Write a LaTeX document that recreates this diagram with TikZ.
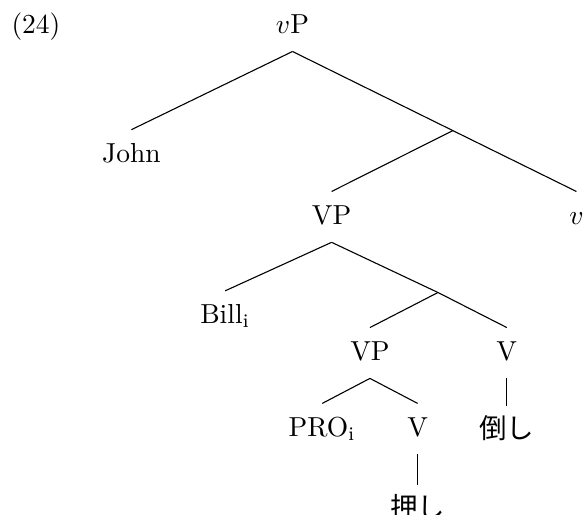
\documentclass[tikz,border=0pt]{standalone}
\usepackage{fontspec}
\usepackage{amssymb}
\newfontfamily\cjk{Noto Sans CJK JP}
\usetikzlibrary{positioning,calc}
\newcommand{\ind}[1]{#1$_{\mathrm{i}}$}

\begin{document}
\begin{tikzpicture}[
  nd/.style={inner sep=0pt, outer sep=0pt, anchor=base, text height=12pt, text depth=6.5pt},
  br/.style={draw=black, line width=0.4pt}]
\useasboundingbox (0,0) rectangle (7.48,6.58);

% ===== example number =====
\node[nd] (ex) at (0.46,6.15) {(24)};

% ===== vP level =====
\node[nd] (vP)   at (3.74,6.15) {$v$P};
\node[nd] (john) at (1.68,4.50) {John};
\coordinate (vbar) at (5.79,4.91);
\node[nd] (VP)   at (4.24,3.71) {VP};
\node[nd] (v)    at (7.37,3.71) {$v$};

% ===== VP level =====
\node[nd] (bill)  at (2.88,2.44) {\ind{Bill}};
\coordinate (Vbar) at (5.60,2.84);
\node[nd] (VPlo)  at (4.73,1.97) {VP};
\node[nd] (Vhi)   at (6.48,1.97) {V};

% ===== lower VP =====
\node[nd] (pro)  at (4.12,1.00) {\ind{PRO}};
\node[nd] (Vlo)  at (5.34,1.00) {V};
\node[nd] (taos) at (6.48,0.97) {\cjk 倒し};
\node[nd] (osu)  at (5.34,-0.04) {\cjk 押し};

% ===== edges =====
\draw[br] (vP.south) -- (john.north);
\draw[br] (vP.south) -- (vbar);
\draw[br] (vbar) -- (VP.north);
\draw[br] (vbar) -- (v.north);
\draw[br] (VP.south) -- (bill.north);
\draw[br] (VP.south) -- (Vbar);
\draw[br] (Vbar) -- (VPlo.north);
\draw[br] (Vbar) -- (Vhi.north);
\draw[br] (VPlo.south) -- (pro.north);
\draw[br] (VPlo.south) -- (Vlo.north);
\draw[br] (Vhi.south) -- (taos.north);
\draw[br] (Vlo.south) -- (osu.north);

\end{tikzpicture}
\end{document}
